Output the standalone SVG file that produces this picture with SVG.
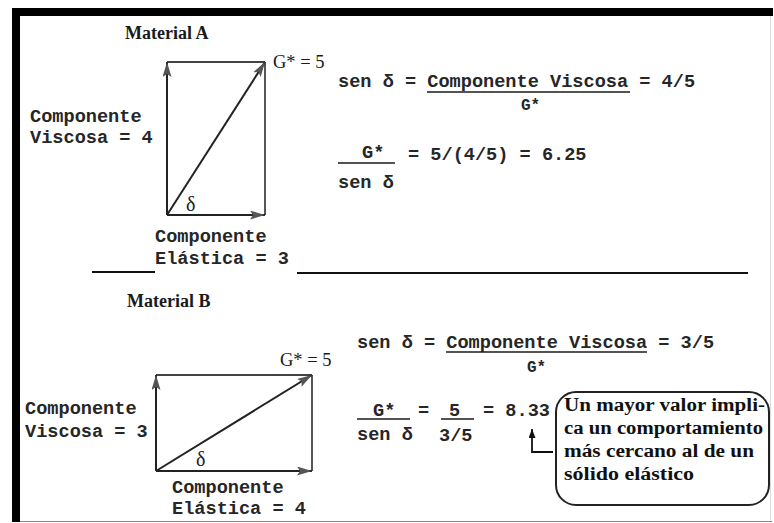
<svg xmlns="http://www.w3.org/2000/svg" width="774" height="523" viewBox="0 0 774 523">
<defs>
<marker id="ah" markerUnits="userSpaceOnUse" markerWidth="16" markerHeight="10" refX="15" refY="4.5" orient="auto">
<path d="M0,0 L15,4.5 L0,9 L3,4.5 z" fill="#555"/>
</marker>
<marker id="ahs" markerUnits="userSpaceOnUse" markerWidth="10" markerHeight="8" refX="9" refY="3.5" orient="auto">
<path d="M0,0 L9,3.5 L0,7 z" fill="#111"/>
</marker>
</defs>
<style>
.mono{font-family:"Liberation Mono","Courier New",monospace;font-weight:bold;font-size:18.6px;fill:#262626}
.small{font-size:16px}
.title{font-family:"Liberation Serif","Times New Roman",serif;font-weight:bold;font-size:18px;fill:#1a1a1a}
.ser{font-family:"Liberation Serif","Times New Roman",serif;font-size:18.5px;fill:#1a1a1a}
.delta{font-family:"Liberation Serif","Times New Roman",serif;font-size:20px;fill:#1a1a1a}
.box{font-family:"Liberation Serif","Times New Roman",serif;font-weight:bold;font-size:18px;fill:#111}
.side{stroke:#444;stroke-width:1.8;fill:none}
.vec{stroke:#222;stroke-width:2;fill:none;marker-end:url(#ah)}
.rule{stroke:#111;stroke-width:2}
</style>
<rect x="0" y="0" width="774" height="523" fill="#fff"/>
<g id="frame">
<rect x="12" y="8" width="761" height="8" fill="#000"/>
<rect x="12" y="8" width="8" height="514" fill="#000"/>
<line x1="20" y1="521.5" x2="772" y2="521.5" stroke="#888" stroke-width="1"/>
<line x1="770.5" y1="16" x2="770.5" y2="521" stroke="#ddd" stroke-width="1"/>
</g>
<g id="dividers">
<line class="rule" x1="92" y1="272" x2="155" y2="272"/>
<line class="rule" x1="297" y1="273" x2="748" y2="273"/>
</g>
<g id="materialA">
<text class="title" x="125" y="39">Material A</text>
<text class="ser" x="273" y="68">G* = 5</text>
<text class="delta" x="186" y="211">δ</text>
<text class="mono" x="30" y="122">Componente</text>
<text class="mono" x="30" y="143">Viscosa = 4</text>
<text class="mono" x="155" y="242">Componente</text>
<text class="mono" x="155" y="264">Elástica = 3</text>
</g>
<g id="eqA">
<text class="mono" x="338" y="87">sen δ = Componente Viscosa = 4/5</text>
<line x1="427" y1="92" x2="630" y2="92" stroke="#1a1a1a" stroke-width="1.5"/>
<text class="mono small" x="521" y="110">G*</text>
<text class="mono" x="362" y="158">G*</text>
<line x1="338" y1="163" x2="395" y2="163" stroke="#1a1a1a" stroke-width="1.5"/>
<text class="mono" x="338" y="188">sen δ</text>
<text class="mono" x="408" y="160">= 5/(4/5) = 6.25</text>
</g>
<g id="materialB">
<text class="title" x="127" y="307">Material B</text>
<text class="ser" x="280" y="366">G* = 5</text>
<text class="delta" x="196" y="466">δ</text>
<text class="mono" x="25" y="414">Componente</text>
<text class="mono" x="25" y="437">Viscosa = 3</text>
<text class="mono" x="172" y="493">Componente</text>
<text class="mono" x="172" y="514">Elástica = 4</text>
</g>
<g id="eqB">
<text class="mono" x="357" y="348">sen δ = Componente Viscosa = 3/5</text>
<line x1="446" y1="352" x2="647" y2="352" stroke="#1a1a1a" stroke-width="1.5"/>
<text class="mono small" x="527" y="372">G*</text>
<text class="mono" x="373" y="416">G*</text>
<line x1="357" y1="419" x2="410" y2="419" stroke="#1a1a1a" stroke-width="1.5"/>
<text class="mono" x="357" y="440">sen δ</text>
<text class="mono" x="418" y="416">=</text>
<text class="mono" x="449" y="416">5</text>
<line x1="441" y1="419" x2="474" y2="419" stroke="#1a1a1a" stroke-width="1.5"/>
<text class="mono" x="439" y="441">3/5</text>
<text class="mono" x="483" y="416">= 8.33</text>
</g>
<g id="note">
<rect x="556" y="392" width="213" height="113" rx="20" ry="20" fill="none" stroke="#222" stroke-width="2"/>
<text class="box" x="564" y="411" textLength="201" lengthAdjust="spacingAndGlyphs">Un mayor valor impli-</text>
<text class="box" x="564" y="434" textLength="199" lengthAdjust="spacingAndGlyphs">ca un comportamiento</text>
<text class="box" x="564" y="457" textLength="190" lengthAdjust="spacingAndGlyphs">más cercano al de un</text>
<text class="box" x="564" y="480" textLength="130" lengthAdjust="spacingAndGlyphs">sólido elástico</text>
</g>
<g id="connectors">
<line class="side" x1="167" y1="62" x2="265" y2="62"/>
<line class="side" x1="265" y1="62" x2="265" y2="215"/>
<line class="vec" x1="167" y1="215" x2="167" y2="62"/>
<line class="vec" x1="167" y1="215" x2="265" y2="215"/>
<line class="vec" x1="167" y1="215" x2="265" y2="62"/>
<line class="side" x1="156" y1="375" x2="312" y2="375"/>
<line class="side" x1="312" y1="375" x2="312" y2="471"/>
<line class="vec" x1="156" y1="471" x2="156" y2="375"/>
<line class="vec" x1="156" y1="471" x2="312" y2="471"/>
<line class="vec" x1="156" y1="471" x2="312" y2="375"/>
<polyline points="553,452 532,452 532,429" fill="none" stroke="#111" stroke-width="1.8" marker-end="url(#ahs)"/>
</g>
</svg>
